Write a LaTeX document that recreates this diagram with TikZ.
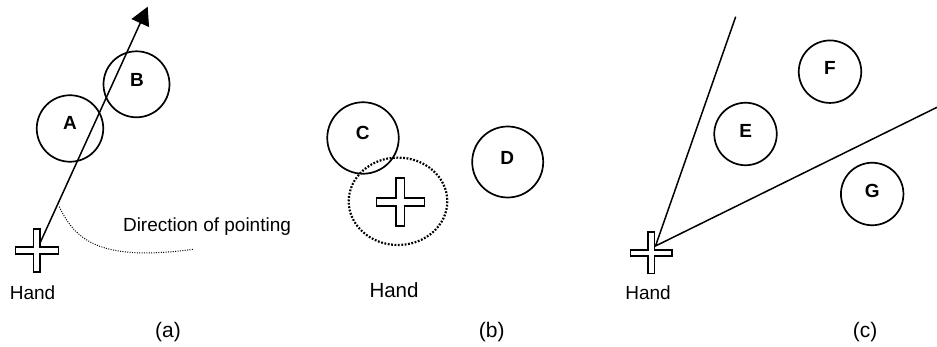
\documentclass[tikz,border=0pt]{standalone}
\usepackage{fontspec}
\setmainfont{Liberation Sans}
\usetikzlibrary{arrows.meta}
\tikzset{
  pics/handcross/.style 2 args={code={
    \draw[crossline] (-#1,-#2) -- (-#2,-#2) -- (-#2,-#1) -- (#2,-#1) -- (#2,-#2) -- (#1,-#2)
      -- (#1,#2) -- (#2,#2) -- (#2,#1) -- (-#2,#1) -- (-#2,#2) -- (-#1,#2) -- cycle;}}
}
\begin{document}
\begin{tikzpicture}[x=1pt,y=-1pt,
  ball/.style={circle, draw, line width=1.7pt, inner sep=0pt},
  lettr/.style={font=\fontsize{19}{21}\selectfont\bfseries, inner sep=0pt},
  txt/.style={font=\fontsize{19}{21}\selectfont, inner sep=0pt, anchor=base},
  capt/.style={font=\fontsize{21}{23}\selectfont, inner sep=0pt, anchor=base},
  crossline/.style={draw, line width=1.5pt, fill=white, line join=miter},
  ray/.style={line width=1.5pt},
  fineDots/.style={line width=1pt, dash pattern=on 1pt off 1.4pt},
  boldDots/.style={line width=2.2pt, dash pattern=on 1.8pt off 1.6pt}
]
\useasboundingbox (0,0) rectangle (937,347);

% ---------- (a) ----------
\node[ball, minimum size=66.5pt] (A) at (70,128.5) {};
\node[ball, minimum size=66pt] (B) at (136.5,84.3) {};
\node[lettr] (la) at (70,123.3) {A};
\node[lettr] (lb) at (137,79.7) {B};
\pic at (36.8,250.4) {handcross={21.5}{3.4}};
\coordinate (ha) at (40.5,242);
\coordinate (tipa) at (147.7,6.7);
\draw[ray, -{Triangle[length=18pt,width=19pt]}] (ha) -- (tipa);
\coordinate (d1) at (59.3,206.7);
\coordinate (d2) at (193,249.3);
\draw[fineDots] (d1) .. controls (75,240) and (100,262) .. (d2);
\node[txt] (dir) at (207,231.7) {Direction of pointing};
\node[txt] (handa) at (32.5,299.3) {Hand};
\node[capt] (capa) at (168,337.5) {(a)};

% ---------- (b) ----------
\node[ball, minimum size=71.5pt] (C) at (363,138) {};
\node[ball, minimum size=71pt] (D) at (507.7,162) {};
\node[lettr] (lc) at (362.7,133.3) {C};
\node[lettr] (ld) at (507.3,158.3) {D};
\draw[boldDots] (398,201.3) ellipse [x radius=49.3, y radius=43.7];
\pic at (400.3,202) {handcross={24}{4.1}};
\node[txt, font=\fontsize{20.5}{22}\selectfont] (handb) at (394,297.3) {Hand};
\node[capt] (capb) at (491.7,337.5) {(b)};

% ---------- (c) ----------
\node[ball, minimum size=62.5pt] (E) at (745.5,134) {};
\node[ball, minimum size=62.5pt] (F) at (830,71.7) {};
\node[ball, minimum size=62.5pt] (G) at (872.2,194) {};
\node[lettr] (le) at (745.7,131) {E};
\node[lettr] (lf) at (830,68.3) {F};
\node[lettr] (lg) at (872.3,190.7) {G};
\pic at (651.2,252.9) {handcross={20.7}{3.1}};
\coordinate (hc) at (655.5,246);
\coordinate (c1) at (735.7,16.7);
\coordinate (c2) at (937,107.3);
\draw[ray] (c1) -- (hc) -- (c2);
\node[txt] (handc) at (648,300) {Hand};
\node[capt] (capc) at (865,337.5) {(c)};
\end{tikzpicture}
\end{document}
